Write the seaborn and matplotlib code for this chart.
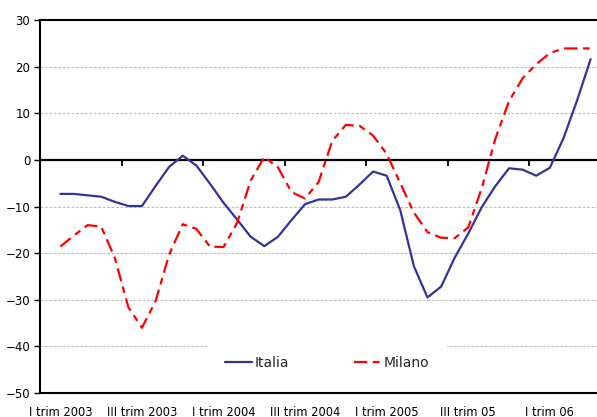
import numpy as np
import pandas as pd
import matplotlib
matplotlib.use("Agg")
import matplotlib.pyplot as plt
import seaborn as sns

# Valori mensili (gen 2003 - apr 2006)
italia = [
    -7.3, -7.3, -7.6, -7.9, -9.0, -9.9, -9.9, -5.6, -1.5, 0.9,
    -1.2, -5.1, -9.2, -12.8, -16.5, -18.5, -16.5, -12.9, -9.5, -8.5,
    -8.5, -7.9, -5.3, -2.5, -3.4, -10.8, -22.8, -29.5, -27.2, -21.0,
    -15.8, -10.1, -5.6, -1.8, -2.1, -3.4, -1.7, 4.6, 12.7, 21.6,
]
milano = [
    -18.6, -16.2, -14.0, -14.3, -21.0, -31.6, -36.0, -30.3, -20.3, -13.8,
    -14.8, -18.6, -18.7, -13.5, -4.4, 0.6, -1.6, -6.9, -8.3, -4.7,
    4.1, 7.5, 7.3, 5.2, 1.3, -5.0, -11.3, -15.5, -16.7, -16.8,
    -14.5, -6.0, 4.6, 12.6, 17.5, 20.5, 22.9, 23.9, 23.9, 23.9,
]
etichette = ["I trim 2003", "III trim 2003", "I trim 2004", "III trim 2004",
             "I trim 2005", "III trim 05", "I trim 06"]
y_ticks = [-50, -40, -30, -20, -10, 0, 10, 20, 30]

mesi = np.arange(len(italia))
df = pd.DataFrame({
    "mese": np.concatenate([mesi, mesi]),
    "valore": italia + milano,
    "serie": ["Italia"] * len(italia) + ["Milano"] * len(milano),
})

sns.set_style("white")
plt.rcParams["font.family"] = ["DejaVu Sans"]

fig = plt.figure(figsize=(5.97, 4.17), dpi=100)
ax = fig.add_axes([40 / 597, 24 / 417, 571 / 597, 373 / 417])

sns.lineplot(
    data=df, x="mese", y="valore", hue="serie", style="serie",
    palette={"Italia": "#333399", "Milano": "#ff0000"},
    dashes={"Italia": "", "Milano": (6, 2.5, 3, 2.5)},
    linewidth=1.6, ax=ax, zorder=3,
)

# ogni etichetta copre due trimestri (6 mesi)
pos_etichette = np.arange(len(etichette)) * 6
confini = pos_etichette[1:] - 1.5

ax.set_xlim(-1.5, pos_etichette[-1] + 4.5)
ax.set_ylim(y_ticks[0], y_ticks[-1])
ax.set_yticks(y_ticks)
ax.set_xticks(pos_etichette)
ax.set_xticklabels(etichette)
ax.set_xlabel("")
ax.set_ylabel("")

ax.yaxis.grid(True, color="#bdbdbd", linestyle=(0, (2.5, 1.5)), linewidth=0.8)
ax.set_axisbelow(True)

# asse orizzontale sullo zero con tacche tra le categorie
ax.axhline(0, color="black", linewidth=1.6, zorder=2)
ax.plot(confini, np.zeros(len(confini)), linestyle="none", marker=3,
        markersize=4, markeredgewidth=1.3, color="black", zorder=2)

for s in ax.spines.values():
    s.set_color("black")
    s.set_linewidth(1.5)

ax.tick_params(axis="x", length=0, pad=9, labelsize=8.3, colors="black")
ax.tick_params(axis="y", length=4, width=1, direction="out", pad=3,
               labelsize=8.5, colors="black", left=True)

handles, labels = ax.get_legend_handles_labels()
leg = ax.legend(
    handles, labels, loc="center", bbox_to_anchor=(0.503, 0.08), ncol=2,
    fontsize=10, handlelength=1.9, handletextpad=0.2, columnspacing=4.7,
    frameon=True, fancybox=False, framealpha=1, borderpad=1.3,
)
leg.get_frame().set_facecolor("white")
leg.get_frame().set_edgecolor("none")

fig.savefig("out.png", dpi=100)
plt.close(fig)
